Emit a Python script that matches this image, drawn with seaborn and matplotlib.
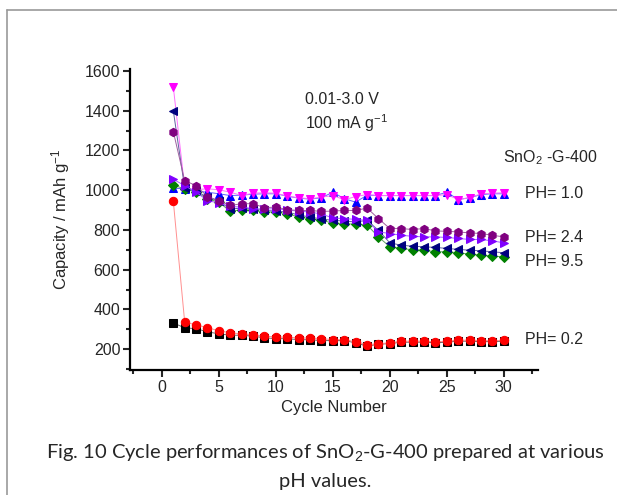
import numpy as np
import pandas as pd
import matplotlib
matplotlib.use("Agg")
import matplotlib.pyplot as plt
from matplotlib.lines import Line2D
from matplotlib.ticker import MultipleLocator
import seaborn as sns

# ---------------------------------------------------------
# data (capacity, mAh/g, cycles 1-30)
# ---------------------------------------------------------
cycles = list(range(1, 31))

ph02_black = [332, 307, 303, 287, 277, 270, 270, 265, 257, 253, 252, 248, 247, 243, 243,
              243, 232, 215, 225, 228, 235, 235, 235, 232, 235, 240, 240, 238, 238, 240]
ph02_red = [945, 335, 323, 307, 293, 282, 277, 273, 265, 262, 260, 257, 256, 253, 248,
            248, 237, 223, 227, 232, 240, 240, 240, 237, 240, 245, 245, 243, 242, 245]

ph10_blue = [1010, 1007, 995, 990, 982, 973, 975, 980, 982, 982, 970, 960, 955, 962, 990,
             957, 940, 975, 973, 973, 973, 973, 973, 973, 990, 953, 962, 978, 982, 982]
ph10_magenta = [1520, 1012, 1003, 1007, 1002, 990, 973, 985, 987, 985, 970, 962, 957, 965, 973,
                952, 968, 978, 973, 973, 973, 973, 973, 973, 978, 953, 962, 982, 985, 987]

ph95_green = [1025, 1007, 990, 957, 940, 893, 902, 898, 890, 890, 882, 865, 857, 848, 835,
              832, 828, 825, 765, 715, 707, 700, 698, 690, 690, 685, 678, 673, 668, 665]
ph95_navy = [1400, 1010, 995, 965, 945, 905, 910, 905, 898, 895, 890, 875, 865, 855, 848,
             845, 840, 848, 798, 735, 723, 718, 715, 712, 707, 702, 698, 695, 690, 685]

ph24_violet = [1055, 1023, 990, 948, 935, 918, 915, 907, 905, 907, 900, 895, 890, 880, 860,
               857, 853, 848, 790, 782, 773, 768, 765, 765, 762, 757, 752, 752, 745, 735]
ph24_purple = [1295, 1048, 1023, 968, 948, 923, 932, 932, 912, 915, 902, 898, 898, 893, 895,
               898, 898, 910, 857, 807, 807, 802, 807, 795, 793, 790, 785, 782, 773, 765]

series = [
    ("black", ph02_black, "s", "black", "#666666"),
    ("red", ph02_red, "o", "#ff0000", "#ff9090"),
    ("blue", ph10_blue, "^", "#0000ff", "#6060ff"),
    ("magenta", ph10_magenta, "v", "#ff00ff", "#ff70ff"),
    ("green", ph95_green, "D", "#008000", "#60a060"),
    ("navy", ph95_navy, "<", "#000080", "#6060a0"),
    ("violet", ph24_violet, ">", "#8000ff", "#a060ff"),
    ("purple", ph24_purple, "h", "#800080", "#a060a0"),
]

sns.set_style("ticks")
plt.rcParams['font.family'] = ['Liberation Sans', 'DejaVu Sans']
plt.rcParams['mathtext.fontset'] = 'custom'
plt.rcParams['mathtext.rm'] = 'Liberation Sans'
plt.rcParams['mathtext.it'] = 'Liberation Sans:italic'

W, H = 617, 495
fig = plt.figure(figsize=(W / 100, H / 100), dpi=100)
ax = fig.add_axes([130 / W, 1 - 370 / H, 408 / W, 301 / H])

for name, vals, mk, col, lcol in series:
    df = pd.DataFrame({"cycle": cycles, "cap": vals})
    sns.lineplot(data=df, x="cycle", y="cap", ax=ax, color=lcol, linewidth=0.7,
                 marker=mk, markersize=6 if mk != "D" else 5,
                 markerfacecolor=col, markeredgecolor=col, legend=False)

ax.set_xlim(-2.8, 33)
ax.set_ylim(95, 1610)
ax.xaxis.set_major_locator(MultipleLocator(5))
ax.xaxis.set_minor_locator(MultipleLocator(2.5))
ax.yaxis.set_minor_locator(MultipleLocator(100))
ax.set_yticks(range(200, 1601, 200))
ax.tick_params(which="major", direction="out", length=5, width=1.5, labelsize=11.5, pad=2)
ax.tick_params(which="minor", direction="out", length=3, width=1.5)
sns.despine(ax=ax)
for s in ["left", "bottom"]:
    ax.spines[s].set_linewidth(1.6)
    ax.spines[s].set_color("black")

ax.set_xlabel("Cycle Number", fontsize=12, labelpad=4)
ax.set_ylabel("Capacity / mAh g$^{-1}$", fontsize=12, labelpad=9)

def ftext(x, y, s, **kw):
    fig.text(x / W, 1 - y / H, s, va="center", **kw)

ftext(305, 100, "0.01-3.0 V", fontsize=11.5)
ftext(305, 123, "100 mA g$^{-1}$", fontsize=11.5)
ftext(503, 158, "SnO$_2$ -G-400", fontsize=11.5)
ftext(525, 193, "PH= 1.0", fontsize=11.5)
ftext(525, 237, "PH= 2.4", fontsize=11.5)
ftext(525, 262, "PH= 9.5", fontsize=11.5)
ftext(525, 339, "PH= 0.2", fontsize=11.5)

ftext(325, 453, "Fig. 10 Cycle performances of SnO$_2$-G-400 prepared at various",
      fontsize=14.5, ha="center", family=["Lato", "DejaVu Sans"])
ftext(325, 482, "pH values.", fontsize=14.5, ha="center", family=["Lato", "DejaVu Sans"])

# grey frame of the page
fig.add_artist(Line2D([7 / W, 1], [1 - 10 / H, 1 - 10 / H], color="#999999", lw=1.2))
fig.add_artist(Line2D([7 / W, 7 / W], [0, 1 - 10 / H], color="#999999", lw=1.2))

fig.savefig("out.png", dpi=100)
